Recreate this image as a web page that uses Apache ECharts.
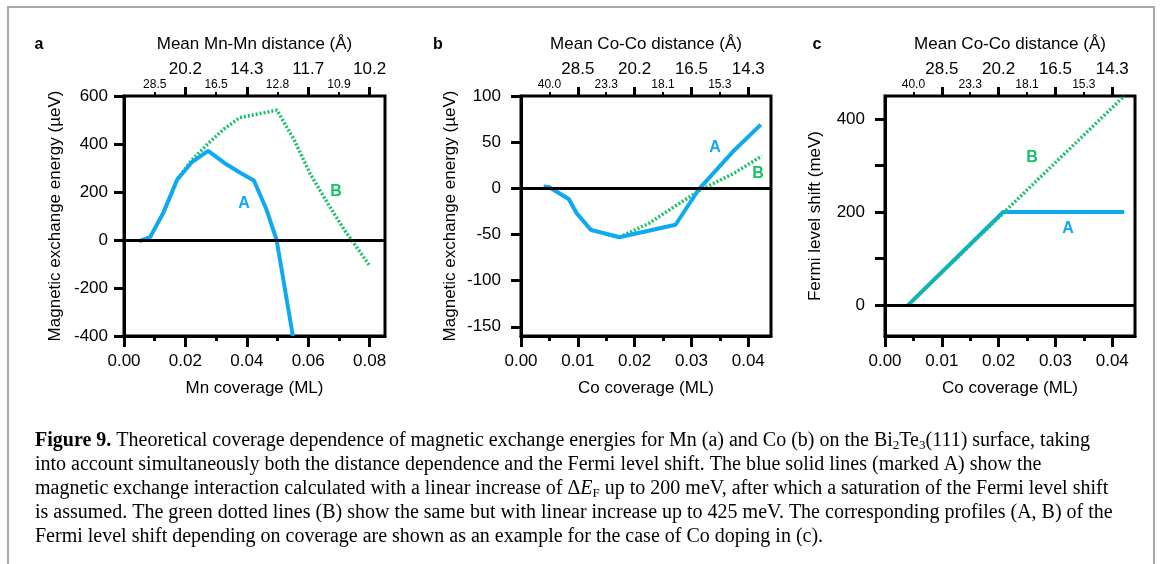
<!DOCTYPE html>
<html>
<head>
<meta charset="utf-8">
<script src="https://cdn.jsdelivr.net/npm/echarts@6/dist/echarts.min.js"></script>
<style>
  html, body { margin: 0; padding: 0; background: #fff; }
  #grafico { width: 1167px; height: 564px; }
</style>
</head>
<body>
<div id="grafico"></div>
<script>
// Datos: [cobertura (ML), valor]
var mnA = [[0.0050, -5], [0.0085, 12], [0.0128, 113], [0.0173, 251], [0.0220, 323], [0.0274, 371],
           [0.0328, 320], [0.0377, 281], [0.0423, 248], [0.0464, 127], [0.0497, 0], [0.0550, -400]];
var mnB = [[0.0050, -5], [0.0085, 12], [0.0128, 113], [0.0173, 251], [0.0220, 332], [0.0274, 402],
           [0.0325, 462], [0.0377, 510], [0.0498, 541], [0.0553, 420], [0.0607, 274], [0.0662, 156],
           [0.0716, 45], [0.0798, -103]];
var coA = [[0.0040, 2], [0.0049, 1.5], [0.0084, -11.6], [0.0098, -27], [0.0123, -45], [0.0173, -53],
           [0.0272, -39.5], [0.0313, -1], [0.0322, 5], [0.0375, 41], [0.0422, 69]];
var coB = [[0.0040, 2], [0.0049, 1.5], [0.0084, -11.6], [0.0098, -27], [0.0123, -45], [0.0173, -53],
           [0.0225, -38], [0.0272, -19], [0.0318, -1], [0.0374, 16], [0.0424, 35]];
var fermiA = [[0.0041, 0], [0.0208, 200], [0.0421, 200]];
var fermiB = [[0.0041, 0], [0.0421, 450]];

// Ejes superiores: distancia media (Å)
var mnTopMayor = [0.02, 0.04, 0.06, 0.08];
var mnTopMayorTxt = ['20.2', '14.3', '11.7', '10.2'];
var mnTopMenor = [0.01, 0.03, 0.05, 0.07];
var mnTopMenorTxt = ['28.5', '16.5', '12.8', '10.9'];
var coTopMayor = [0.01, 0.02, 0.03, 0.04];
var coTopMayorTxt = ['28.5', '20.2', '16.5', '14.3'];
var coTopMenor = [0.005, 0.015, 0.025, 0.035];
var coTopMenorTxt = ['40.0', '23.3', '18.1', '15.3'];

// Ejes inferiores e izquierdos
var mnX = [0, 0.02, 0.04, 0.06, 0.08];
var mnXmenor = [0.01, 0.03, 0.05, 0.07];
var coX = [0, 0.01, 0.02, 0.03, 0.04];
var coXmenor = [0.005, 0.015, 0.025, 0.035];
var yA = [-400, -200, 0, 200, 400, 600];
var yB = [-150, -100, -50, 0, 50, 100];
var yCticks = [0, 100, 200, 300, 400];
var yClabels = [0, 200, 400];

var AZUL = '#0ea9f0';
var VERDE = '#14c264';
var SANS = 'Liberation Sans, Arial, sans-serif';
var SERIF = 'Liberation Serif, Times New Roman, serif';

function buscar(vals, txts) {
    return function (v) {
        for (var i = 0; i < vals.length; i++) {
            if (Math.abs(vals[i] - v) < 1e-6) return txts[i];
        }
        return '';
    };
}

var grids = [], xAxes = [], yAxes = [], series = [];

function panel(p) {
    var g = grids.length;
    grids.push({ left: p.left, top: 96, width: p.width, height: 240, show: true,
                 borderColor: '#000', borderWidth: 3, backgroundColor: 'transparent' });
    var base = { gridIndex: g, type: 'value', min: 0, max: p.xmax, splitLine: { show: false } };
    var xi = xAxes.length;
    // eje inferior principal
    xAxes.push(Object.assign({}, base, {
        position: 'bottom', name: p.xname, nameLocation: 'middle', nameGap: 44,
        nameTextStyle: { fontSize: 17, color: '#000', fontFamily: SANS },
        axisLine: { show: true, onZero: false, lineStyle: { color: '#000', width: 3 } },
        axisTick: { show: true, length: 11, customValues: p.xTicks, lineStyle: { color: '#000', width: 3 } },
        axisLabel: { customValues: p.xTicks, formatter: function (v) { return v.toFixed(2); },
                     fontSize: 17, margin: 17, color: '#000', fontFamily: SANS }
    }));
    // marcas menores inferiores
    xAxes.push(Object.assign({}, base, {
        position: 'bottom',
        axisLine: { show: false, onZero: false },
        axisTick: { show: true, length: 5, customValues: p.xMinor, lineStyle: { color: '#000', width: 3 } },
        axisLabel: { show: false }
    }));
    // eje superior principal
    xAxes.push(Object.assign({}, base, {
        position: 'top', name: p.topName, nameLocation: 'middle', nameGap: 43,
        nameTextStyle: { fontSize: 17, color: '#000', fontFamily: SANS },
        axisLine: { show: false, onZero: false },
        axisTick: { show: true, length: 9, customValues: p.topMayor, lineStyle: { color: '#000', width: 3 } },
        axisLabel: { customValues: p.topMayor, formatter: buscar(p.topMayor, p.topMayorTxt),
                     fontSize: 17, margin: 18, color: '#000', fontFamily: SANS }
    }));
    // eje superior menor
    xAxes.push(Object.assign({}, base, {
        position: 'top',
        axisLine: { show: false, onZero: false },
        axisTick: { show: true, length: 4, customValues: p.topMenor, lineStyle: { color: '#000', width: 2 } },
        axisLabel: { customValues: p.topMenor, formatter: buscar(p.topMenor, p.topMenorTxt),
                     fontSize: 12, margin: 5, color: '#000', fontFamily: SANS }
    }));
    var yi = yAxes.length;
    yAxes.push({
        gridIndex: g, type: 'value', min: p.ymin, max: p.ymax, splitLine: { show: false },
        name: p.yname, nameLocation: 'middle', nameGap: p.yGap,
        nameTextStyle: { fontSize: 17, color: '#000', fontFamily: SANS },
        axisLine: { show: true, onZero: false, lineStyle: { color: '#000', width: 3 } },
        axisTick: { show: true, length: 10, customValues: p.yTicks, lineStyle: { color: '#000', width: 3 } },
        axisLabel: { customValues: p.yLabels, fontSize: 17, margin: p.yMargin, color: '#000', fontFamily: SANS }
    });
    var linea = {
        silent: true, symbol: ['none', 'none'], label: { show: false },
        lineStyle: { color: '#000', width: 3, type: 'solid' }, data: [{ yAxis: 0 }]
    };
    var sA = { name: 'A', type: 'line', xAxisIndex: xi, yAxisIndex: yi, data: p.dA, symbol: 'none',
               lineStyle: { color: AZUL, width: 4 }, markLine: linea, z: 3 };
    var sB = { name: 'B', type: 'line', xAxisIndex: xi, yAxisIndex: yi, data: p.dB, symbol: 'none',
               lineStyle: { color: VERDE, width: 3.5, type: [2, 2] }, z: 2 };
    if (p.verdeArriba) { sB.z = 4; }
    series.push(sB, sA);
}

panel({ left: 124, width: 261, xmax: 0.085, ymin: -400, ymax: 600,
        xname: 'Mn coverage (ML)', topName: 'Mean Mn-Mn distance (Å)',
        yname: 'Magnetic exchange energy (µeV)', yGap: 60, yMargin: 16,
        xTicks: mnX, xMinor: mnXmenor, topMayor: mnTopMayor, topMayorTxt: mnTopMayorTxt,
        topMenor: mnTopMenor, topMenorTxt: mnTopMenorTxt, yTicks: yA, yLabels: yA,
        dA: mnA, dB: mnB });
panel({ left: 521, width: 250, xmax: 0.044, ymin: -160, ymax: 100,
        xname: 'Co coverage (ML)', topName: 'Mean Co-Co distance (Å)',
        yname: 'Magnetic exchange energy (µeV)', yGap: 62, yMargin: 20,
        xTicks: coX, xMinor: coXmenor, topMayor: coTopMayor, topMayorTxt: coTopMayorTxt,
        topMenor: coTopMenor, topMenorTxt: coTopMenorTxt, yTicks: yB, yLabels: yB,
        dA: coA, dB: coB });
panel({ left: 885, width: 250, xmax: 0.044, ymin: -67, ymax: 450,
        xname: 'Co coverage (ML)', topName: 'Mean Co-Co distance (Å)',
        yname: 'Fermi level shift (meV)', yGap: 61, yMargin: 20,
        xTicks: coX, xMinor: coXmenor, topMayor: coTopMayor, topMayorTxt: coTopMayorTxt,
        topMenor: coTopMenor, topMenorTxt: coTopMenorTxt, yTicks: yCticks, yLabels: yClabels,
        dA: fermiA, dB: fermiB, verdeArriba: true });

// Etiquetas de texto
function etiqueta(txt, x, y, color, size) {
    return { type: 'text', x: x, y: y, z: 10,
             style: { text: txt, fill: color, font: 'bold ' + size + 'px ' + SANS, align: 'center', verticalAlign: 'middle' } };
}

var TAM = 20;
var estiloCaption = {
    b: { fontWeight: 'bold', fontSize: TAM, fontFamily: SERIF, lineHeight: 22 },
    i: { fontStyle: 'italic', fontSize: TAM, fontFamily: SERIF, lineHeight: 22 },
    s: { fontSize: 13, fontFamily: SERIF, lineHeight: 11, verticalAlign: 'bottom' }
};
var lineasCaption = [
    '{b|Figure 9.} Theoretical coverage dependence of magnetic exchange energies for Mn (a) and Co (b) on the Bi{s|2}Te{s|3}(111) surface, taking',
    'into account simultaneously both the distance dependence and the Fermi level shift. The blue solid lines (marked A) show the',
    'magnetic exchange interaction calculated with a linear increase of Δ{i|E}{s|F} up to 200 meV, after which a saturation of the Fermi level shift',
    'is assumed. The green dotted lines (B) show the same but with linear increase up to 425 meV. The corresponding profiles (A, B) of the',
    'Fermi level shift depending on coverage are shown as an example for the case of Co doping in (c).'
];

var graficos = [
    { type: 'rect', shape: { x: 8, y: 7, width: 1146, height: 600 }, z: 0,
      style: { fill: 'none', stroke: '#a8a8a8', lineWidth: 2 } },
    etiqueta('a', 39, 45, '#000', 16),
    etiqueta('b', 438, 45, '#000', 16),
    etiqueta('c', 817, 45, '#000', 16),
    etiqueta('A', 244, 204, AZUL, 16),
    etiqueta('B', 336, 192, VERDE, 16),
    etiqueta('A', 715, 148, AZUL, 16),
    etiqueta('B', 758, 174, VERDE, 16),
    etiqueta('B', 1032, 158, VERDE, 16),
    etiqueta('A', 1068, 229, AZUL, 16)
];
lineasCaption.forEach(function (t, k) {
    graficos.push({ type: 'text', x: 35, y: 441 + k * 24, z: 10,
                    style: { text: t, fill: '#000', fontSize: TAM, fontFamily: SERIF, lineHeight: 22,
                             verticalAlign: 'middle', rich: estiloCaption } });
});

var grafico = echarts.init(document.getElementById('grafico'), null, { renderer: 'canvas' });
grafico.setOption({
    animation: false,
    backgroundColor: '#fff',
    textStyle: { fontFamily: SANS },
    grid: grids,
    xAxis: xAxes,
    yAxis: yAxes,
    series: series,
    graphic: graficos
});
</script>
</body>
</html>
